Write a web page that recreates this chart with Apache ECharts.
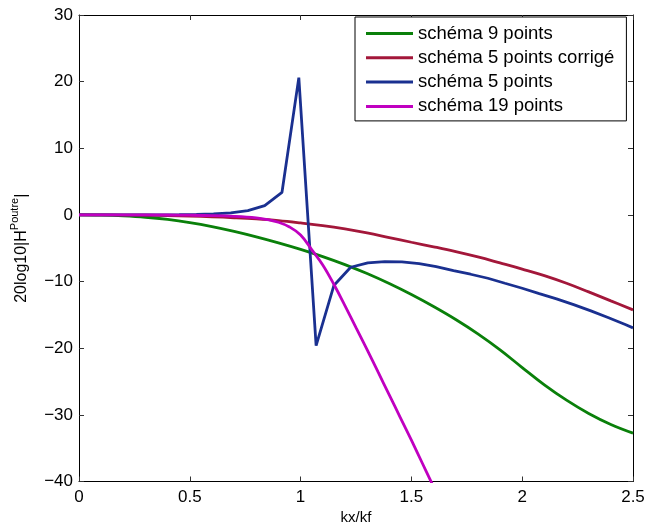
<!DOCTYPE html>
<html>
<head>
<meta charset="utf-8">
<script src="https://cdn.jsdelivr.net/npm/echarts@6/dist/echarts.min.js"></script>
<style>
html,body{margin:0;padding:0;background:#fff;}
#chart{width:646px;height:525px;}
</style>
</head>
<body>
<div id="chart"></div>
<script>
// ---- Data ----
const seriesNames = ['schéma 9 points', 'schéma 5 points corrigé', 'schéma 5 points', 'schéma 19 points'];

const xSmooth = [0,0.1,0.2,0.3,0.4,0.5,0.6,0.7,0.8,0.9,1.0,1.1,1.2,1.3,1.4,1.5,1.6,1.7,1.8,1.9,2.0,2.1,2.2,2.3,2.4,2.5];
const green9 = [0,-0.04,-0.15,-0.35,-0.68,-1.15,-1.75,-2.47,-3.29,-4.19,-5.17,-6.25,-7.45,-8.8,-10.3,-11.95,-13.75,-15.7,-17.85,-20.25,-22.9,-25.5,-27.8,-29.8,-31.45,-32.75];
const red5c = [0,0,-0.02,-0.05,-0.1,-0.18,-0.28,-0.42,-0.6,-0.85,-1.2,-1.6,-2.1,-2.7,-3.4,-4.1,-4.78,-5.5,-6.3,-7.2,-8.12,-9.1,-10.25,-11.55,-12.9,-14.25];

const xBlue = [0,0.065,0.142,0.22,0.297,0.375,0.452,0.53,0.607,0.685,0.762,0.838,0.916,0.992,1.070,1.150,1.226,1.303,1.380,1.457,1.535,1.612,1.690,1.767,1.845,1.922,2.0,2.077,2.155,2.232,2.310,2.387,2.465,2.5];
const blue5 = [0,0,0,0,0.01,0.02,0.04,0.08,0.16,0.32,0.65,1.4,3.4,20.6,-19.6,-10.6,-7.85,-7.2,-7.0,-7.05,-7.3,-7.75,-8.35,-8.9,-9.5,-10.25,-11.0,-11.8,-12.6,-13.45,-14.4,-15.4,-16.45,-16.95];

const xMag = [0,0.1,0.2,0.3,0.4,0.5,0.6,0.7,0.8,0.85,0.9,0.95,1.0,1.05,1.1,1.15,1.2,1.25,1.3,1.35,1.4,1.45,1.5,1.55,1.6];
const mag19 = [0,0,0,0,-0.01,-0.04,-0.1,-0.22,-0.45,-0.7,-1.1,-1.8,-3.0,-5.2,-7.5,-10.4,-13.6,-16.9,-20.2,-23.6,-27.0,-30.4,-33.8,-37.3,-40.8];

const xTicks = {min: 0, max: 2.5, interval: 0.5};
const yTicks = {min: -40, max: 30, interval: 10};
const xLabel = 'kx/kf';

// ---- Chart ----
const zip = (xs, ys) => xs.map((x, i) => [x, ys[i]]);
const colors = ['#0a800a', '#a3173a', '#1a3090', '#c000c0'];
const FONT = '"Liberation Sans", Arial, sans-serif';

const chart = echarts.init(document.getElementById('chart'), null, {renderer: 'canvas'});

const minusFmt = v => (v < 0 ? '\u2212' + (-v) : String(v));
const baseAxis = {
  type: 'value',
  axisLine: {show: true, onZero: false, lineStyle: {color: '#000', width: 1}},
  axisTick: {show: true, inside: true, length: 5, lineStyle: {color: '#333', width: 1}},
  splitLine: {show: false},
  minorTick: {show: false}
};

const option = {
  backgroundColor: '#fff',
  animation: false,
  color: colors,
  textStyle: {fontFamily: FONT},
  grid: {left: 79, right: 13, top: 15, bottom: 43.5, containLabel: false, outerBoundsMode: 'none'},
  legend: {
    orient: 'vertical',
    left: 355, top: 17,
    data: seriesNames,
    icon: 'rect',
    itemWidth: 47, itemHeight: 3,
    itemGap: 4.3,
    padding: [6.5, 12, 4.5, 11],
    backgroundColor: '#fff',
    borderColor: '#000', borderWidth: 1, borderRadius: 0,
    textStyle: {fontSize: 18.5, lineHeight: 20, color: '#000', fontFamily: FONT}
  },
  xAxis: [
    Object.assign({}, baseAxis, {
      position: 'bottom', min: xTicks.min, max: xTicks.max, interval: xTicks.interval,
      name: xLabel, nameLocation: 'middle', nameGap: 27,
      nameTextStyle: {fontSize: 15, color: '#000', fontFamily: FONT},
      axisLabel: {fontSize: 17, color: '#000', margin: 7, fontFamily: FONT}
    }),
    Object.assign({}, baseAxis, {
      position: 'top', min: xTicks.min, max: xTicks.max, interval: xTicks.interval,
      axisLabel: {show: false}
    })
  ],
  yAxis: [
    Object.assign({}, baseAxis, {
      position: 'left', min: yTicks.min, max: yTicks.max, interval: yTicks.interval,
      name: '20log10|H{sup|Poutre}|', nameLocation: 'middle', nameGap: 35, nameRotate: 90,
      nameTextStyle: {
        fontSize: 16, color: '#000', fontFamily: FONT, lineHeight: 24,
        rich: {sup: {fontSize: 11, lineHeight: 11, verticalAlign: 'top', color: '#000', fontFamily: FONT}}
      },
      axisLabel: {fontSize: 17, color: '#000', margin: 6, fontFamily: FONT, formatter: minusFmt}
    }),
    Object.assign({}, baseAxis, {
      position: 'right', min: yTicks.min, max: yTicks.max, interval: yTicks.interval,
      axisLabel: {show: false}
    })
  ],
  series: [
    {name: seriesNames[0], type: 'line', data: zip(xSmooth, green9), smooth: 0.4, showSymbol: false, symbol: 'none', lineStyle: {width: 2.8}, clip: true},
    {name: seriesNames[1], type: 'line', data: zip(xSmooth, red5c), smooth: 0.4, showSymbol: false, symbol: 'none', lineStyle: {width: 2.8}, clip: true},
    {name: seriesNames[2], type: 'line', data: zip(xBlue, blue5), smooth: false, showSymbol: false, symbol: 'none', lineStyle: {width: 2.8}, clip: true},
    {name: seriesNames[3], type: 'line', data: zip(xMag, mag19), smooth: 0.4, showSymbol: false, symbol: 'none', lineStyle: {width: 2.8}, clip: true}
  ]
};
chart.setOption(option);
</script>
</body>
</html>
